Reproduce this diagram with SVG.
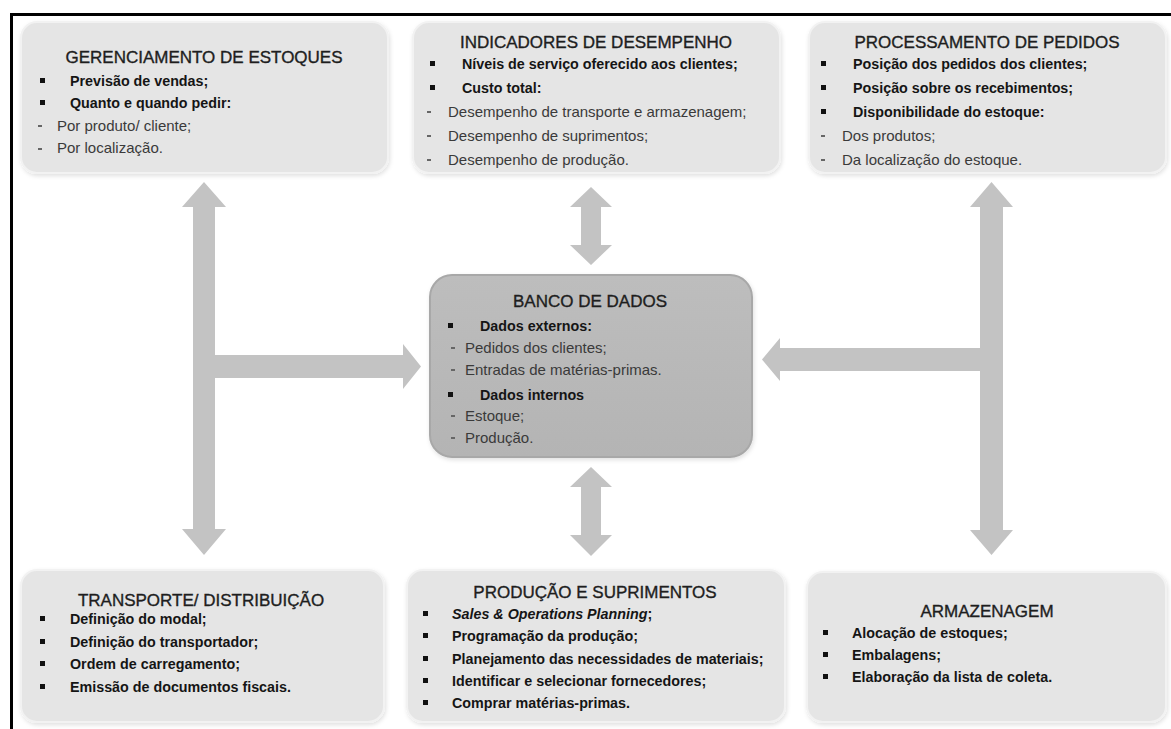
<svg xmlns="http://www.w3.org/2000/svg" width="1171" height="729" viewBox="0 0 1171 729">
<defs>
<filter id="sh" x="-5%" y="-5%" width="110%" height="115%">
<feDropShadow dx="1" dy="2" stdDeviation="2" flood-color="#000" flood-opacity="0.12"/>
</filter>
<linearGradient id="cg" x1="0" y1="0" x2="0" y2="1">
<stop offset="0" stop-color="#bdbdbd"/>
<stop offset="1" stop-color="#b4b4b4"/>
</linearGradient>
</defs>
<style>
.box{fill:#e5e5e5;stroke:#f2f2f2;stroke-width:2;filter:url(#sh)}
.cbox{fill:url(#cg);stroke:#a8a8a8;stroke-width:2;filter:url(#sh)}
.ttl{font-family:"Liberation Sans",Arial,sans-serif;font-size:17px;fill:#1e1e1e;stroke:#1e1e1e;stroke-width:0.35;text-anchor:middle}
.b{font-family:"Liberation Sans",Arial,sans-serif;font-size:14.3px;font-weight:bold;fill:#151515}
.r{font-family:"Liberation Sans",Arial,sans-serif;font-size:15px;fill:#3a3a3a}
.i{font-style:italic}
.sq{fill:#111}
.ds{fill:#666}
.arr{fill:#c3c3c3}
</style>
<rect width="1171" height="729" fill="#fff"/>
<g id="frame">
<rect x="10" y="13" width="1161" height="3" fill="#000"/>
<rect x="10" y="13" width="3" height="716" fill="#000"/>
</g>
<g id="connectors">
<polygon class="arr" points="204,182 226,207 215,207 215,529 226,529 204,555 182,529 193,529 193,207 182,207"/>
<polygon class="arr" points="215,355 403,355 403,344 421,366.5 403,389 403,378 215,378"/>
<polygon class="arr" points="991.5,182 1013,207 1003,207 1003,530 1013,530 991.5,555 970,530 980,530 980,207 970,207"/>
<polygon class="arr" points="980,348 780,348 780,338 762,359.5 780,381 780,371 980,371"/>
<polygon class="arr" points="591,187 612,207 601,207 601,245 612,245 591,265 570,245 581,245 581,207 570,207"/>
<polygon class="arr" points="591,467 612,487 601,487 601,535 612,535 591,556 570,535 581,535 581,487 570,487"/>
</g>
<g id="gerenciamento">
<rect class="box" x="21" y="22" width="367" height="151" rx="16"/>
<text class="ttl" x="204" y="63">GERENCIAMENTO DE ESTOQUES</text>
<rect class="sq" x="40" y="78" width="5" height="5"/><text class="b" x="70" y="86">Previsão de vendas;</text>
<rect class="sq" x="40" y="100" width="5" height="5"/><text class="b" x="70" y="108">Quanto e quando pedir:</text>
<rect class="ds" x="38" y="125" width="4" height="2"/><text class="r" x="57" y="131">Por produto/ cliente;</text>
<rect class="ds" x="38" y="148" width="4" height="2"/><text class="r" x="57" y="153">Por localização.</text>
</g>
<g id="indicadores">
<rect class="box" x="413" y="22" width="367" height="151" rx="16"/>
<text class="ttl" x="596" y="48">INDICADORES DE DESEMPENHO</text>
<rect class="sq" x="430" y="61" width="5" height="5"/><text class="b" x="462" y="69">Níveis de serviço oferecido aos clientes;</text>
<rect class="sq" x="430" y="85" width="5" height="5"/><text class="b" x="462" y="93">Custo total:</text>
<rect class="ds" x="427" y="111" width="4" height="2"/><text class="r" x="448" y="117">Desempenho de transporte e armazenagem;</text>
<rect class="ds" x="427" y="135" width="4" height="2"/><text class="r" x="448" y="141">Desempenho de suprimentos;</text>
<rect class="ds" x="427" y="159" width="4" height="2"/><text class="r" x="448" y="165">Desempenho de produção.</text>
</g>
<g id="processamento">
<rect class="box" x="809" y="22" width="357" height="151" rx="16"/>
<text class="ttl" x="987" y="48">PROCESSAMENTO DE PEDIDOS</text>
<rect class="sq" x="821" y="61" width="5" height="5"/><text class="b" x="853" y="69">Posição dos pedidos dos clientes;</text>
<rect class="sq" x="821" y="85" width="5" height="5"/><text class="b" x="853" y="93">Posição sobre os recebimentos;</text>
<rect class="sq" x="821" y="109" width="5" height="5"/><text class="b" x="853" y="117">Disponibilidade do estoque:</text>
<rect class="ds" x="821" y="135" width="4" height="2"/><text class="r" x="842" y="141">Dos produtos;</text>
<rect class="ds" x="821" y="159" width="4" height="2"/><text class="r" x="842" y="165">Da localização do estoque.</text>
</g>
<g id="banco">
<rect class="cbox" x="430" y="275" width="322" height="182" rx="22"/>
<text class="ttl" x="590" y="307">BANCO DE DADOS</text>
<rect class="sq" x="448" y="323" width="5" height="5"/><text class="b" x="480" y="331">Dados externos:</text>
<rect class="ds" x="451" y="347" width="4" height="2"/><text class="r" x="465" y="353">Pedidos dos clientes;</text>
<rect class="ds" x="451" y="369" width="4" height="2"/><text class="r" x="465" y="375">Entradas de matérias-primas.</text>
<rect class="sq" x="448" y="392" width="5" height="5"/><text class="b" x="480" y="400">Dados internos</text>
<rect class="ds" x="451" y="415" width="4" height="2"/><text class="r" x="465" y="421">Estoque;</text>
<rect class="ds" x="451" y="437" width="4" height="2"/><text class="r" x="465" y="443">Produção.</text>
</g>
<g id="transporte">
<rect class="box" x="21" y="570" width="363" height="152" rx="16"/>
<text class="ttl" x="201" y="606">TRANSPORTE/ DISTRIBUIÇÃO</text>
<rect class="sq" x="40" y="616" width="5" height="5"/><text class="b" x="70" y="624">Definição do modal;</text>
<rect class="sq" x="40" y="639" width="5" height="5"/><text class="b" x="70" y="647">Definição do transportador;</text>
<rect class="sq" x="40" y="661" width="5" height="5"/><text class="b" x="70" y="669">Ordem de carregamento;</text>
<rect class="sq" x="40" y="684" width="5" height="5"/><text class="b" x="70" y="692">Emissão de documentos fiscais.</text>
</g>
<g id="producao">
<rect class="box" x="407" y="570" width="378" height="152" rx="16"/>
<text class="ttl" x="595" y="598">PRODUÇÃO E SUPRIMENTOS</text>
<rect class="sq" x="423" y="611" width="5" height="5"/><text class="b i" x="452" y="619">Sales &amp; Operations Planning<tspan font-style="normal">;</tspan></text>
<rect class="sq" x="423" y="633" width="5" height="5"/><text class="b" x="452" y="641">Programação da produção;</text>
<rect class="sq" x="423" y="656" width="5" height="5"/><text class="b" x="452" y="664">Planejamento das necessidades de materiais;</text>
<rect class="sq" x="423" y="678" width="5" height="5"/><text class="b" x="452" y="686">Identificar e selecionar fornecedores;</text>
<rect class="sq" x="423" y="700" width="5" height="5"/><text class="b" x="452" y="708">Comprar matérias-primas.</text>
</g>
<g id="armazenagem">
<rect class="box" x="807" y="572" width="359" height="150" rx="16"/>
<text class="ttl" x="987" y="617" font-size="17.5">ARMAZENAGEM</text>
<rect class="sq" x="823" y="630" width="5" height="5"/><text class="b" x="852" y="638">Alocação de estoques;</text>
<rect class="sq" x="823" y="652" width="5" height="5"/><text class="b" x="852" y="660">Embalagens;</text>
<rect class="sq" x="823" y="674" width="5" height="5"/><text class="b" x="852" y="682">Elaboração da lista de coleta.</text>
</g>
</svg>
